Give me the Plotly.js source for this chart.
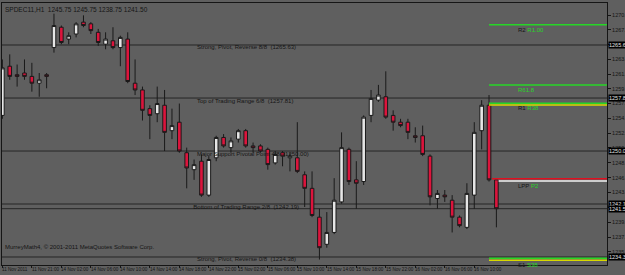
<!DOCTYPE html>
<html><head><meta charset="utf-8">
<script src="https://cdn.plot.ly/plotly-3.0.1.min.js"></script>
<style>html,body{margin:0;padding:0;background:#5f5f5f}#c{width:625px;height:275px}</style>
</head><body><div id="c"></div>
<script>
const symbol = "SPDEC11,H1";
const bars = [0,1,2,3,4,5,6,7,8,9,10,11,12,13,14,15,16,17,18,19,20,21,22,23,24,25,26,27,28,29,30,31,32,33,34,35,36,37,38,39,40,41,42,43,44,45,46,47,48,49,50,51,52,53,54,55,56,57,58,59,60,61,62,63,64,65,66,67];
const openP = [1255.25,1262.50,1261.25,1261.50,1261.00,1260.00,1261.25,1265.25,1268.25,1266.50,1267.25,1269.00,1268.75,1267.50,1265.75,1266.25,1265.25,1266.50,1260.00,1259.00,1256.25,1255.50,1256.75,1253.00,1254.25,1249.75,1247.25,1248.50,1243.50,1249.00,1252.00,1250.50,1251.75,1253.00,1250.75,1250.75,1250.25,1248.25,1249.75,1249.00,1249.00,1246.50,1244.50,1240.25,1236.25,1238.00,1242.50,1250.25,1245.75,1245.50,1255.25,1257.50,1258.00,1255.25,1254.25,1254.25,1252.25,1252.25,1249.25,1243.00,1243.50,1242.75,1240.25,1238.75,1243.50,1253.00,1256.75,1245.75];
const highP = [1263.50,1264.25,1262.75,1263.50,1263.00,1261.50,1261.50,1270.25,1268.50,1267.50,1269.00,1270.00,1269.00,1268.00,1267.50,1268.25,1267.00,1267.50,1263.50,1259.50,1256.75,1259.50,1259.00,1256.25,1257.00,1250.50,1248.75,1249.50,1249.25,1252.25,1252.50,1252.00,1253.25,1253.25,1251.25,1251.00,1250.50,1250.00,1250.00,1249.75,1254.25,1247.00,1247.00,1241.50,1241.00,1246.00,1252.75,1250.50,1248.50,1255.25,1259.00,1259.75,1261.75,1256.00,1254.75,1254.75,1253.50,1253.75,1249.50,1244.25,1244.25,1243.50,1240.50,1245.25,1254.25,1257.50,1258.25,1245.75];
const lowP = [1254.75,1260.50,1259.50,1260.50,1258.75,1258.00,1259.25,1264.50,1265.75,1265.75,1266.75,1268.25,1267.25,1265.50,1265.00,1265.00,1262.50,1260.00,1258.25,1254.50,1251.75,1254.25,1250.00,1251.75,1249.75,1244.50,1245.75,1243.25,1243.25,1248.50,1250.50,1249.75,1251.25,1250.50,1249.75,1249.75,1247.25,1248.00,1247.75,1247.00,1246.75,1241.75,1240.25,1234.00,1235.75,1237.75,1242.25,1245.00,1241.50,1245.00,1254.25,1257.25,1254.75,1253.00,1253.50,1251.75,1251.25,1249.25,1242.00,1241.50,1242.50,1238.00,1238.75,1238.50,1241.50,1250.25,1245.50,1238.75];
const closeP = [1262.25,1261.00,1261.00,1261.00,1260.00,1260.50,1261.00,1268.50,1266.00,1267.00,1268.75,1268.50,1267.75,1266.00,1266.50,1265.25,1266.75,1260.25,1259.00,1256.00,1255.25,1257.00,1252.75,1253.75,1250.00,1247.50,1248.00,1243.50,1248.75,1252.00,1250.75,1251.50,1253.00,1250.75,1250.50,1250.00,1248.00,1249.50,1249.25,1249.25,1247.00,1244.50,1240.50,1235.75,1238.00,1242.75,1250.50,1245.50,1245.25,1255.00,1257.75,1258.25,1255.00,1254.25,1253.75,1252.75,1252.00,1249.50,1243.25,1243.75,1243.25,1240.25,1239.00,1243.75,1252.75,1256.75,1245.75,1241.50];

const timeTickBars = [0,4,8,12,16,20,24,28,32,36,40,44,48,52,56,60,64];
const timeTickText = ["11 Nov 2011","11 Nov 21:00","14 Nov 02:00","14 Nov 06:00","14 Nov 10:00","14 Nov 14:00","14 Nov 18:00","14 Nov 22:00","15 Nov 02:00","15 Nov 06:00","15 Nov 10:00","15 Nov 14:00","15 Nov 18:00","15 Nov 22:00","16 Nov 02:00","16 Nov 06:00","16 Nov 10:00"];
const priceTicks = [1270.05,1267.90,1265.70,1263.50,1261.35,1259.15,1257.00,1254.80,1252.60,1250.45,1248.25,1246.05,1243.90,1241.70,1239.50,1237.30,1235.15,1232.95];
const priceTickText = ["1270.05","1267.90","1265.70","1263.50","1261.35","1259.15","1257.00","1254.80","1252.60","1250.45","1248.25","1246.05","1243.90","1241.70","1239.50","1237.30","1235.15","1232.95"];

const murreyLevels = [1265.63,1257.81,1250.00,1242.19,1234.38];
const murreyNames = ["Strong, Pivot, Reverse 8/8","Top of Trading Range 6/8","Major Support Pivotal Point 4/8","Bottom of Trading Range 2/8","Strong, Pivot, Reverse 0/8"];
const murreyLabelBar = [26.4,26.4,26.4,25.9,26.4];
const bidPrice = 1241.50;

const pivotLevels = [1268.60,1259.75,1257.05,1256.80,1245.90,1245.60,1234.20,1233.90];
const pivotColors = ["#27d627","#27d627","#27d627","#d8d800","#e01020","#f2f2f2","#27d627","#d8d800"];
const pivotStartBar = [66,66,66,66,66.4,67.3,66,66];
const pivotLabels = [
  {y:1268.60, t:'<span style="color:#151515">R2</span> <span style="color:#27d627">R1.00</span>'},
  {y:1259.75, t:'<span style="color:#27d627">R61.8</span>'},
  {y:1257.05, t:'<span style="color:#151515">R1</span> <span style="color:#27d627">R38</span>'},
  {y:1245.60, t:'<span style="color:#151515">LPP</span> <span style="color:#27d627">P2</span>'},
  {y:1233.90, t:'<span style="color:#151515">S1</span> <span style="color:#27d627">S38</span>'}
];

const FONT = "Liberation Sans, Arial, sans-serif";
const BG = "#5f5f5f";
const INK = "#151515";

const traces = [
  {
    type: "scatter", mode: "text",
    x: murreyLabelBar, y: murreyLevels,
    text: murreyNames.map((n,i)=> n + "  (" + murreyLevels[i].toFixed(2) + ")"),
    textposition: "bottom right",
    textfont: {family: FONT, size: 6, color: INK},
    hoverinfo: "skip", showlegend: false, cliponaxis: false
  },
  {
    type: "candlestick",
    x: bars, open: openP, high: highP, low: lowP, close: closeP,
    increasing: {line: {color: "#1a1a1a", width: 1}, fillcolor: "#e6e6e6"},
    decreasing: {line: {color: "#1a1a1a", width: 1}, fillcolor: "#dc143c"},
    whiskerwidth: 0,
    hoverinfo: "skip", showlegend: false
  }
];

const shapes = [];
murreyLevels.forEach(v => shapes.push({type:"line", xref:"paper", x0:0, x1:1, yref:"y", y0:v, y1:v, line:{color:"#262626", width:1}, layer:"below"}));
shapes.push({type:"line", xref:"paper", x0:0, x1:1, yref:"y", y0:bidPrice, y1:bidPrice, line:{color:"#262626", width:1}, layer:"below"});
pivotLevels.forEach((v,i) => shapes.push({type:"line", xref:"x", x0:pivotStartBar[i], x1:90, yref:"y", y0:v, y1:v, line:{color:pivotColors[i], width:1.5}, layer:"above"}));

const annotations = [];
annotations.push({xref:"paper", yref:"paper", x:0.002, y:0.995, xanchor:"left", yanchor:"top", showarrow:false,
  text: symbol + "  " + openP[67].toFixed(2) + " " + highP[67].toFixed(2) + " " + lowP[67].toFixed(2) + " " + closeP[67].toFixed(2),
  font:{family:FONT, size:6.5, color:INK}});
annotations.push({xref:"paper", yref:"paper", x:0.002, y:0.07, xanchor:"left", yanchor:"middle", showarrow:false,
  text:"MurreyMath4, © 2001-2011 MetaQuotes Software Corp.", font:{family:FONT, size:6, color:INK}});
pivotLabels.forEach(p => annotations.push({xref:"x", yref:"y", x:69.7, y:p.y, xanchor:"left", yanchor:"top", showarrow:false, text:p.t, font:{family:FONT, size:6, color:INK}}));
murreyLevels.concat([bidPrice]).forEach(v => annotations.push({xref:"paper", yref:"y", x:1, y:v, xanchor:"left", yanchor:"middle", xshift:1, showarrow:false,
  text:v.toFixed(2), bgcolor:"#000000", font:{family:FONT, size:5.5, color:"#e0e0e0"}, borderpad:0}));
timeTickBars.forEach((b,i) => annotations.push({xref:"x", yref:"paper", x:b, y:0, xanchor:"left", yanchor:"top", yshift:-1, xshift:-1, showarrow:false,
  text:timeTickText[i], font:{family:FONT, size:4.6, color:INK}, borderpad:0}));

const layout = {
  width: 625, height: 275,
  margin: {l: 2, r: 18, t: 3, b: 10},
  paper_bgcolor: BG, plot_bgcolor: BG,
  showlegend: false,
  font: {family: FONT, size: 6, color: INK},
  xaxis: {
    range: [-0.05, 82.0], rangeslider: {visible: false},
    tickvals: timeTickBars, showticklabels: false,
    ticks: "outside", ticklen: 2, tickcolor: INK,
    showgrid: false, zeroline: false, showline: true, linecolor: INK, linewidth: 1, mirror: true,
    fixedrange: true
  },
  yaxis: {
    side: "right", range: [1233.20, 1271.82],
    tickvals: priceTicks, ticktext: priceTickText,
    ticks: "outside", ticklen: 3, tickcolor: INK,
    tickfont: {family: FONT, size: 5.5, color: INK},
    showgrid: false, zeroline: false, showline: true, linecolor: INK, linewidth: 1, mirror: true,
    fixedrange: true
  },
  shapes: shapes,
  annotations: annotations
};

Plotly.newPlot("c", traces, layout, {staticPlot: true, displayModeBar: false});
</script>
</body></html>
